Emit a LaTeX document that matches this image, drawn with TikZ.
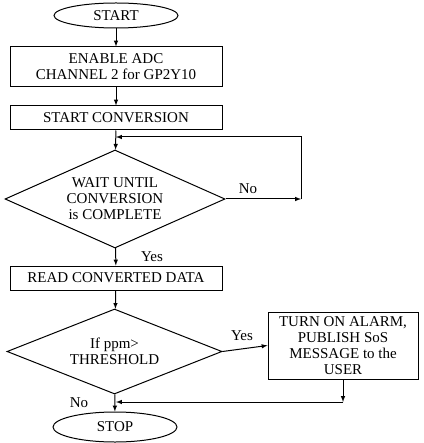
\documentclass[tikz,border=0pt]{standalone}
\usepackage{fontspec}
\setmainfont{Liberation Serif}
\usepackage{tikz}
\usetikzlibrary{shapes.geometric}

\begin{document}
\begin{tikzpicture}[
        x=1pt, y=-1pt,
        every node/.style={font=\fontsize{15}{16}\selectfont},
        terminal/.style={ellipse, draw, line width=1pt, inner sep=0pt, minimum width=124pt},
        process/.style={rectangle, draw, line width=1pt, align=center, inner sep=0pt, minimum width=212pt},
        decision/.style={diamond, draw, line width=1pt, align=center, inner sep=0pt, aspect=2.2},
        flow/.style={->, >=latex, line width=1pt},
        answer/.style={anchor=center}
    ]

    % Fix the size of the page
    \useasboundingbox (0,0) rectangle (423,443);

    % Main column of the chart
    \node[terminal, minimum height=25pt] (start) at (116,15.5) {START};
    \node[process, minimum height=40pt] (enable) at (116,67) {ENABLE ADC\\CHANNEL 2 for GP2Y10};
    \node[process, minimum height=24pt] (conv) at (116,118) {START CONVERSION};
    \node[decision, minimum width=220pt, minimum height=98pt] (wait) at (115,199) {WAIT UNTIL\\CONVERSION\\is COMPLETE};
    \node[process, minimum height=24pt] (read) at (116,278) {READ CONVERTED DATA};
    \node[decision, minimum width=215pt, minimum height=85pt] (thr) at (114.5,351.5) {If ppm>\\THRESHOLD};
    \node[terminal, minimum height=30pt] (stop) at (115,427) {STOP};

    % Alarm box on the right
    \node[rectangle, draw, line width=1pt, align=center, inner sep=0pt,
          minimum width=150pt, minimum height=67pt] (alarm) at (343,345.5)
          {TURN ON ALARM,\\PUBLISH SoS\\MESSAGE to the\\USER};

    % Points where the lines turn
    \coordinate (loopright) at (301,199);
    \coordinate (loopin) at (116,137);
    \coordinate (join) at (116,402);

    % Connectors
    \draw[flow] (start) -- (enable);
    \draw[flow] (enable) -- (conv);
    \draw[flow] (conv) -- (wait);
    \draw[flow] (wait.east) -- (loopright);
    \draw[flow] (loopright) |- (loopin);
    \draw[flow] (wait) -- (read);
    \draw[flow] (read) -- (thr);
    \draw[flow] (thr.east) -- (alarm.west);
    \draw[flow] (alarm.south) -- (alarm.south |- join);
    \draw[flow] (alarm.south |- join) -- (join);
    \draw[flow] (thr) -- (stop);

    % Answers on the branches
    \node[answer] (nowait) at (248,189) {No};
    \node[answer] (yeswait) at (152,257) {Yes};
    \node[answer] (yesthr) at (242,336) {Yes};
    \node[answer] (nothr) at (79,403) {No};

\end{tikzpicture}
\end{document}
